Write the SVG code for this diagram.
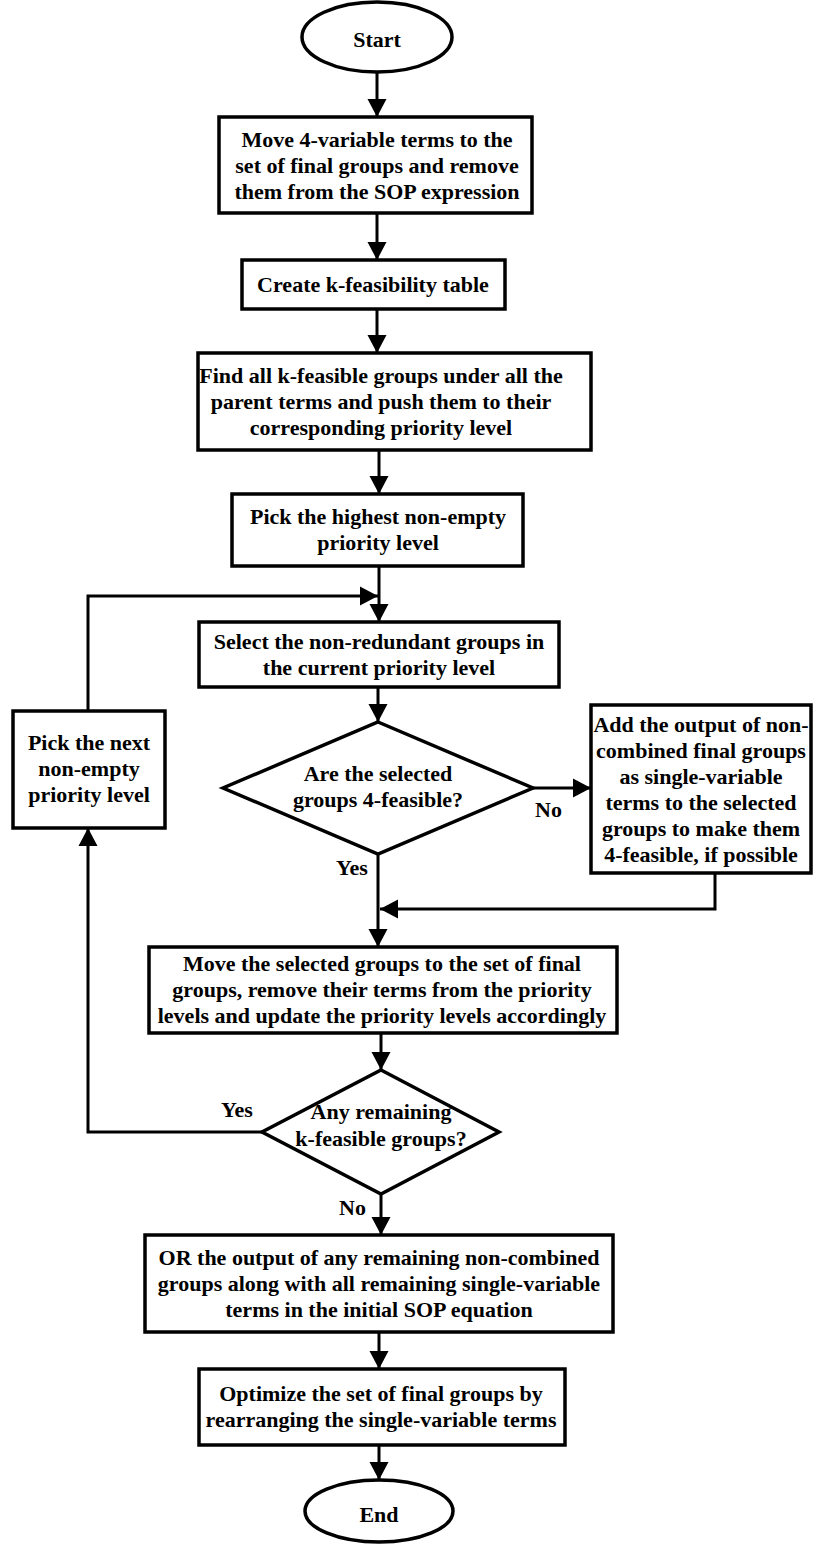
<svg xmlns="http://www.w3.org/2000/svg" width="813" height="1545" viewBox="0 0 813 1545">
  <style>
    .shape { fill: #ffffff; stroke: #000000; stroke-width: 3.5; }
    .link { fill: none; stroke: #000000; stroke-width: 3; }
    text { font-family: "Liberation Serif", "Times New Roman", serif; font-weight: bold; font-size: 22px; fill: #000000; text-anchor: middle; }
    .lbl { text-anchor: start; }
  </style>
  <defs>
    <marker id="arrow" markerUnits="userSpaceOnUse" markerWidth="20" markerHeight="20" refX="18" refY="10" orient="auto">
      <path d="M0,0.5 L18,10 L0,19.5 Z" fill="#000000"/>
    </marker>
  </defs>

  <rect width="813" height="1545" fill="#ffffff"/>

  <!-- connectors -->
  <g id="connectors">
    <path class="link" d="M377,72 V117" marker-end="url(#arrow)"/>
    <path class="link" d="M377,213 V260" marker-end="url(#arrow)"/>
    <path class="link" d="M377,309 V353" marker-end="url(#arrow)"/>
    <path class="link" d="M379,450 V494" marker-end="url(#arrow)"/>
    <path class="link" d="M379,566 V622" marker-end="url(#arrow)"/>
    <path class="link" d="M88,711 V596 H378" marker-end="url(#arrow)"/>
    <path class="link" d="M378,687 V722" marker-end="url(#arrow)"/>
    <path class="link" d="M533,788 H591" marker-end="url(#arrow)"/>
    <path class="link" d="M378,854 V947" marker-end="url(#arrow)"/>
    <path class="link" d="M715,873 V909 H380" marker-end="url(#arrow)"/>
    <path class="link" d="M381,1033 V1070" marker-end="url(#arrow)"/>
    <path class="link" d="M262,1132 H88 V828" marker-end="url(#arrow)"/>
    <path class="link" d="M381,1194 V1235" marker-end="url(#arrow)"/>
    <path class="link" d="M379,1332 V1369" marker-end="url(#arrow)"/>
    <path class="link" d="M379,1445 V1480" marker-end="url(#arrow)"/>

    <text class="lbl" x="535" y="817">No</text>
    <text class="lbl" x="336" y="875">Yes</text>
    <text class="lbl" x="221" y="1117">Yes</text>
    <text class="lbl" x="339" y="1215">No</text>
  </g>

  <g id="start">
    <ellipse class="shape" cx="377" cy="37" rx="75" ry="35"/>
    <text x="377" y="47">Start</text>
  </g>

  <g id="move-4var">
    <rect class="shape" x="219" y="117" width="313" height="96"/>
    <text x="377" y="147">Move 4-variable terms to the</text>
    <text x="377" y="173">set of final groups and remove</text>
    <text x="377" y="199">them from the SOP expression</text>
  </g>

  <g id="create-table">
    <rect class="shape" x="242" y="260" width="263" height="49"/>
    <text x="373" y="292">Create k-feasibility table</text>
  </g>

  <g id="find-groups">
    <rect class="shape" x="198" y="353" width="393" height="97"/>
    <text x="381" y="383">Find all k-feasible groups under all the</text>
    <text x="381" y="409">parent terms and push them to their</text>
    <text x="381" y="435">corresponding priority level</text>
  </g>

  <g id="pick-highest">
    <rect class="shape" x="232" y="494" width="291" height="72"/>
    <text x="378" y="524">Pick the highest non-empty</text>
    <text x="378" y="550">priority level</text>
  </g>

  <g id="select-groups">
    <rect class="shape" x="199" y="622" width="360" height="65"/>
    <text x="379" y="649">Select the non-redundant groups in</text>
    <text x="379" y="675">the current priority level</text>
  </g>

  <g id="feasible-check">
    <polygon class="shape" points="378,722 533,788 378,854 223,788"/>
    <text x="378" y="781">Are the selected</text>
    <text x="378" y="807">groups 4-feasible?</text>
  </g>

  <g id="add-outputs">
    <rect class="shape" x="591" y="705" width="220" height="168"/>
    <text x="701" y="732">Add the output of non-</text>
    <text x="701" y="758">combined final groups</text>
    <text x="701" y="784">as single-variable</text>
    <text x="701" y="810">terms to the selected</text>
    <text x="701" y="836">groups to make them</text>
    <text x="701" y="862">4-feasible, if possible</text>
  </g>

  <g id="pick-next">
    <rect class="shape" x="13" y="711" width="152" height="117"/>
    <text x="89" y="750">Pick the next</text>
    <text x="89" y="776">non-empty</text>
    <text x="89" y="802">priority level</text>
  </g>

  <g id="move-selected">
    <rect class="shape" x="149" y="947" width="468" height="86"/>
    <text x="382" y="971">Move the selected groups to the set of final</text>
    <text x="382" y="997">groups, remove their terms from the priority</text>
    <text x="382" y="1023">levels and update the priority levels accordingly</text>
  </g>

  <g id="remaining-check">
    <polygon class="shape" points="381,1070 499,1132 381,1194 262,1132"/>
    <text x="381" y="1119">Any remaining</text>
    <text x="381" y="1146">k-feasible groups?</text>
  </g>

  <g id="or-outputs">
    <rect class="shape" x="145" y="1235" width="468" height="97"/>
    <text x="379" y="1265">OR the output of any remaining non-combined</text>
    <text x="379" y="1291">groups along with all remaining single-variable</text>
    <text x="379" y="1317">terms in the initial SOP equation</text>
  </g>

  <g id="optimize">
    <rect class="shape" x="199" y="1369" width="366" height="76"/>
    <text x="381" y="1401">Optimize the set of final groups by</text>
    <text x="381" y="1427">rearranging the single-variable terms</text>
  </g>

  <g id="end">
    <ellipse class="shape" cx="379" cy="1511" rx="74" ry="31"/>
    <text x="379" y="1522">End</text>
  </g>
</svg>
